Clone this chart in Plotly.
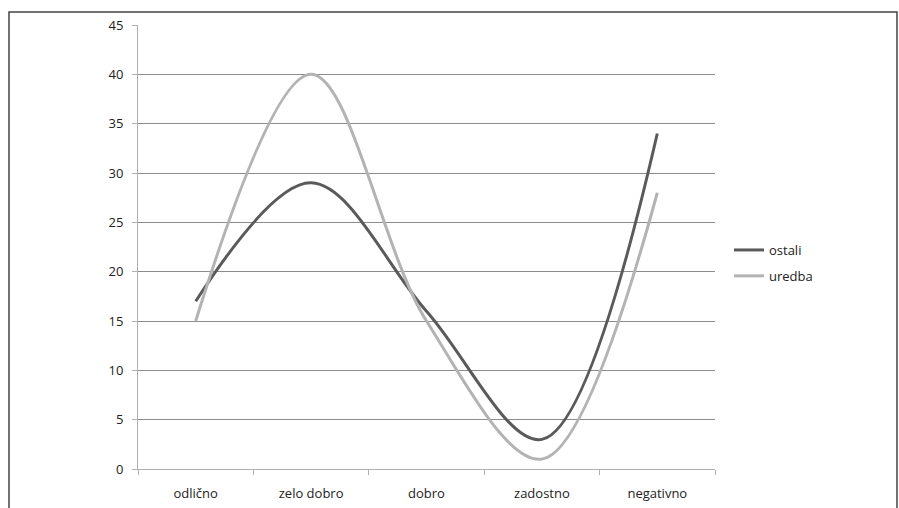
import plotly.graph_objects as go

categories = ["odlično", "zelo dobro", "dobro", "zadostno", "negativno"]
ostali = [17, 29, 16, 3, 34]
uredba = [15, 40, 15, 1, 28]

W, H = 899, 508
L, R, T, B = 138, 184, 25, 39
pw, ph = W - L - R, H - T - B

fig = go.Figure()
fig.add_trace(go.Scatter(x=categories, y=ostali, name="ostali", mode="lines",
                         legendgroup="a",
                         line=dict(color="#5a5a5a", width=3, shape="spline", smoothing=1.0)))
fig.add_trace(go.Scatter(x=categories, y=uredba, name="uredba", mode="lines",
                         legendgroup="b",
                         line=dict(color="#b3b3b3", width=3, shape="spline", smoothing=1.0)))

font = "'Open Sans', Lato, sans-serif"
fig.update_layout(
    width=W, height=H,
    margin=dict(l=L, r=R, t=T, b=B, autoexpand=False),
    paper_bgcolor="white", plot_bgcolor="white",
    font=dict(family=font, size=13, color="#222"),
    showlegend=True,
    legend=dict(x=(729 - L) / pw, y=(469 - 263) / ph, xanchor="left", yanchor="middle",
                bgcolor="rgba(0,0,0,0)", font=dict(size=13, color="#222"),
                itemwidth=30, tracegroupgap=6),
    xaxis=dict(type="category", showgrid=False, showline=True, linecolor="#b0b0b0",
               linewidth=1, ticks="outside", ticklen=5, tickcolor="#b0b0b0",
               tickson="boundaries", range=[-0.5, 4.5], zeroline=False,
               ticklabelstandoff=12, automargin=False),
    yaxis=dict(range=[0, 45], dtick=5, showgrid=True, gridcolor="#8c8c8c", gridwidth=1,
               showline=True, linecolor="#b0b0b0", linewidth=1, ticks="outside",
               ticklen=5, tickcolor="#b0b0b0", zeroline=False, ticklabelstandoff=6,
               automargin=False),
)

# outer chart frame
fig.add_shape(type="rect", xref="paper", yref="paper",
              x0=(9 - L) / pw, x1=(897 - L) / pw,
              y0=(H - B - 520) / ph, y1=(H - B - 12) / ph,
              line=dict(color="#444", width=1.5), layer="below")

fig.write_html("out.html")
